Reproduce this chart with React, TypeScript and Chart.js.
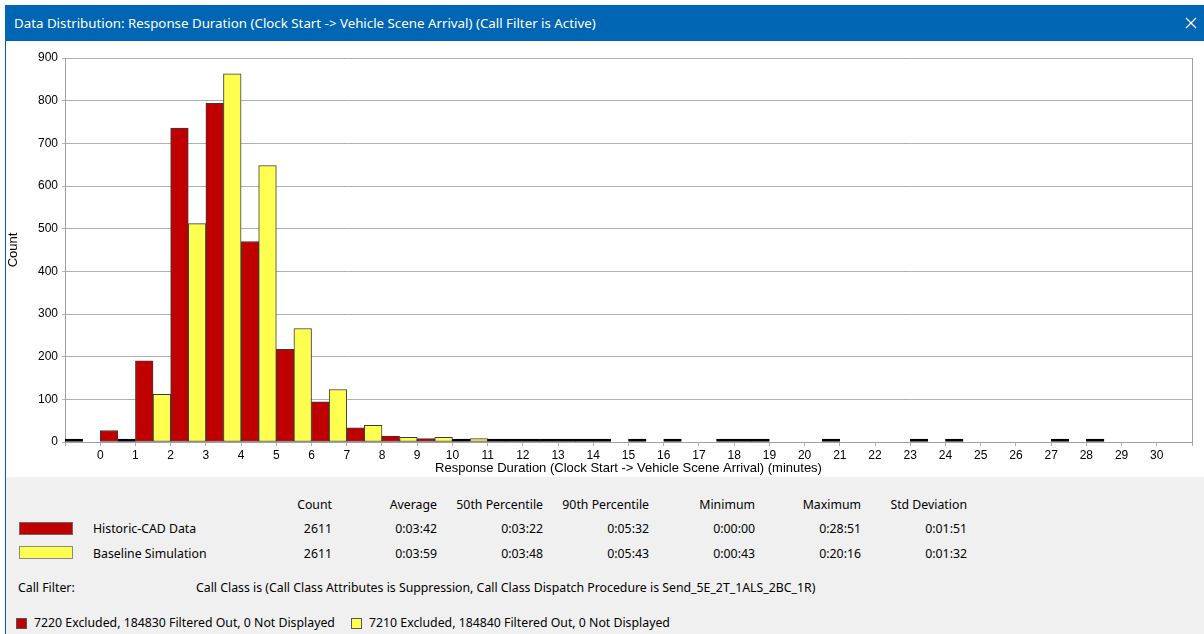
import React, { useEffect, useRef } from 'react';
import { Chart, registerables } from 'chart.js';

Chart.register(...registerables);

// ---- data ----
const binStarts = [-1, 0, 1, 2, 3, 4, 5, 6, 7, 8, 9, 10, 11, 12, 13, 14, 15, 16, 17, 18, 19, 20, 21, 22, 23, 24, 25, 26, 27, 28, 29, 30];
const historicCounts: (number | null)[] = [2, 27, 190, 736, 794, 470, 217, 94, 33, 14, 8, 2, 2, 2, 2, 2, 2, 2, null, 2, null, null, null, null, 2, 2, null, null, 2, 2, null, null];
const baselineCounts: (number | null)[] = [null, 2, 112, 512, 863, 648, 266, 123, 39, 11, 11, 8, 2, 2, 2, null, null, null, 2, 2, null, 2, null, null, null, null, null, null, null, null, null, null];
const seriesNames = ['Historic-CAD Data', 'Baseline Simulation'];
const xAxisTitle = 'Response Duration (Clock Start -> Vehicle Scene Arrival) (minutes)';
const yAxisTitle = 'Count';
const xMin = -1;
const xMax = 31;
const yMax = 900;
const yStep = 100;
const windowTitle = 'Data Distribution: Response Duration (Clock Start -> Vehicle Scene Arrival) (Call Filter is Active)';
const statHeaders = ['Count', 'Average', '50th Percentile', '90th Percentile', 'Minimum', 'Maximum', 'Std Deviation'];
const historicStats = ['2611', '0:03:42', '0:03:22', '0:05:32', '0:00:00', '0:28:51', '0:01:51'];
const baselineStats = ['2611', '0:03:59', '0:03:48', '0:05:43', '0:00:43', '0:20:16', '0:01:32'];
const callFilterLabel = 'Call Filter:';
const callFilterText = 'Call Class is (Call Class Attributes is Suppression, Call Class Dispatch Procedure is Send_5E_2T_1ALS_2BC_1R)';
const footerNotes = ['7220 Excluded, 184830 Filtered Out, 0 Not Displayed', '7210 Excluded, 184840 Filtered Out, 0 Not Displayed'];

// ---- styles ----
const RED = '#C00000';
const YELLOW = '#FFFF50';
const BAR_BORDER = '#3a3a3a';
const TINY_BAR = '#000000';
const GRID = '#B0B0B0';
const AXIS = '#A0A0A0';
const BLUE = '#0065B3';
const CHART_FONT = "'Liberation Sans', Arial, sans-serif";
const UI_FONT = "'Noto Sans', 'Open Sans', sans-serif";
const colRights = [332, 437, 543, 649, 755, 861, 967];

const rightBorderPlugin = {
  id: 'rightBorder',
  beforeDatasetsDraw(chart: any) {
    const { ctx, chartArea } = chart;
    ctx.save();
    ctx.strokeStyle = AXIS;
    ctx.lineWidth = 1;
    ctx.beginPath();
    ctx.moveTo(Math.round(chartArea.right) + 0.5, chartArea.top);
    ctx.lineTo(Math.round(chartArea.right) + 0.5, chartArea.bottom);
    ctx.stroke();
    ctx.restore();
  },
};

function toPoints(vals: (number | null)[]) {
  return binStarts
    .map((b, i) => ({ x: b + 0.5, y: vals[i] }))
    .filter((p) => p.y !== null);
}

function fillFor(color: string) {
  return (c: any) => (c.raw && c.raw.y !== null && c.raw.y <= 3 ? TINY_BAR : color);
}

function borderFor() {
  return (c: any) => (c.raw && c.raw.y !== null && c.raw.y <= 3 ? TINY_BAR : BAR_BORDER);
}

function ChartView() {
  const ref = useRef<HTMLCanvasElement | null>(null);
  useEffect(() => {
    if (!ref.current) return;
    const font = { family: CHART_FONT, size: 12 };
    const titleFont = { family: CHART_FONT, size: 13 };
    const chart = new Chart(ref.current, {
      type: 'bar',
      data: {
        datasets: [
          {
            label: seriesNames[0],
            data: toPoints(historicCounts) as any,
            backgroundColor: fillFor(RED),
            borderColor: borderFor(),
            borderWidth: 1,
            borderSkipped: false,
            minBarLength: 3,
            barPercentage: 1,
            categoryPercentage: 1,
          },
          {
            label: seriesNames[1],
            data: toPoints(baselineCounts) as any,
            backgroundColor: fillFor(YELLOW),
            borderColor: borderFor(),
            borderWidth: 1,
            borderSkipped: false,
            minBarLength: 3,
            barPercentage: 1,
            categoryPercentage: 1,
          },
        ],
      },
      options: {
        responsive: false,
        animation: false,
        devicePixelRatio: 1,
        layout: { padding: { top: 17, right: 12, left: 0, bottom: 0 } },
        plugins: { legend: { display: false }, tooltip: { enabled: false } },
        scales: {
          x: {
            type: 'linear',
            min: xMin,
            max: xMax,
            offset: false,
            bounds: 'ticks',
            ticks: {
              stepSize: 1,
              autoSkip: false,
              maxRotation: 0,
              padding: 2,
              color: '#000',
              font,
              callback: (v: any) => (v < 0 || v > 30 ? '' : String(v)),
            },
            grid: { display: true, drawOnChartArea: false, drawTicks: true, tickLength: 4, color: GRID, offset: false },
            border: { display: true, color: AXIS },
            title: { display: true, text: xAxisTitle, color: '#000', font: titleFont, padding: { top: 0, bottom: 1 } },
            afterFit: (s: any) => {
              s.height = 35;
            },
          },
          y: {
            min: 0,
            max: yMax,
            ticks: { stepSize: yStep, padding: 4, color: '#000', font },
            grid: { color: GRID, tickLength: 3 },
            border: { display: true, color: AXIS },
            title: { display: true, text: yAxisTitle, color: '#000', font: titleFont, padding: { top: 0, bottom: 0 } },
            afterFit: (s: any) => {
              s.width = 59;
            },
          },
        },
      } as any,
      plugins: [rightBorderPlugin],
    });
    return () => chart.destroy();
  }, []);
  return <canvas ref={ref} width={1198} height={436} style={{ display: 'block', width: 1198, height: 436 }} />;
}

function Txt(props: { x?: number; right?: number; y: number; children: React.ReactNode; color?: string }) {
  const style: React.CSSProperties = {
    position: 'absolute',
    top: props.y - 9,
    height: 18,
    lineHeight: '18px',
    whiteSpace: 'nowrap',
    color: props.color || '#000',
  };
  if (props.right !== undefined) style.right = 1204 - props.right;
  else style.left = props.x;
  return <div style={style}>{props.children}</div>;
}

export default function App() {
  return (
    <div
      style={{
        position: 'fixed',
        left: 0,
        top: 0,
        width: 1204,
        height: 634,
        background: '#fff',
        overflow: 'hidden',
        fontFamily: UI_FONT,
        fontSize: 12.3,
      }}
    >
      {/* window frame */}
      <div style={{ position: 'absolute', left: 5, top: 5, width: 1, height: 629, background: BLUE }} />
      <div style={{ position: 'absolute', left: 5, top: 5, width: 1199, height: 36, background: BLUE }} />
      <div style={{ position: 'absolute', left: 14, top: 5, height: 36, lineHeight: '36px', color: '#fff', fontSize: 13.3, whiteSpace: 'nowrap' }}>
        {windowTitle}
      </div>
      <svg style={{ position: 'absolute', left: 1185, top: 17 }} width={12} height={12}>
        <line x1={1} y1={1} x2={11} y2={11} stroke="#fff" strokeWidth={1.2} />
        <line x1={11} y1={1} x2={1} y2={11} stroke="#fff" strokeWidth={1.2} />
      </svg>

      {/* chart */}
      <div style={{ position: 'absolute', left: 6, top: 41 }}>
        <ChartView />
      </div>

      {/* bottom panel */}
      <div style={{ position: 'absolute', left: 6, top: 477, width: 1198, height: 157, background: '#F0F0F0' }} />
      {statHeaders.map((h, i) => (
        <Txt key={'h' + i} right={colRights[i]} y={505}>
          {h}
        </Txt>
      ))}
      <div style={{ position: 'absolute', left: 19, top: 522, width: 52, height: 11, background: RED, border: '1px solid #6a6a6a' }} />
      <div style={{ position: 'absolute', left: 19, top: 546, width: 52, height: 11, background: YELLOW, border: '1px solid #8a8a8a' }} />
      <Txt x={93} y={529}>{seriesNames[0]}</Txt>
      <Txt x={93} y={554}>{seriesNames[1]}</Txt>
      {historicStats.map((v, i) => (
        <Txt key={'a' + i} right={colRights[i]} y={529}>
          {v}
        </Txt>
      ))}
      {baselineStats.map((v, i) => (
        <Txt key={'b' + i} right={colRights[i]} y={554}>
          {v}
        </Txt>
      ))}
      <Txt x={18} y={588}>{callFilterLabel}</Txt>
      <Txt x={196} y={588}>{callFilterText}</Txt>

      <div style={{ position: 'absolute', left: 16, top: 618, width: 9, height: 9, background: RED, border: '1px solid #555' }} />
      <Txt x={34} y={623}>{footerNotes[0]}</Txt>
      <div style={{ position: 'absolute', left: 351, top: 618, width: 9, height: 9, background: YELLOW, border: '1px solid #555' }} />
      <Txt x={369} y={623}>{footerNotes[1]}</Txt>
    </div>
  );
}
